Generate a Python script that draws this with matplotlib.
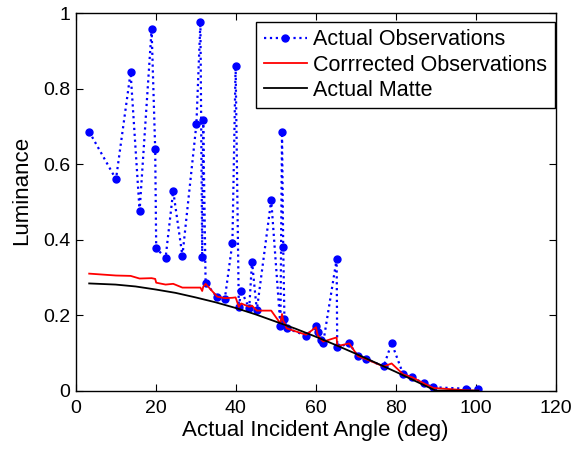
import matplotlib
matplotlib.use('Agg')
import matplotlib.pyplot as plt

plt.rcParams['font.family'] = ['Liberation Sans', 'DejaVu Sans']

# Actual observations (angle in deg, luminance)
obs_angle = [3.4, 10.1, 13.75, 16.0, 19.0, 19.9, 20.15, 22.5, 24.4, 26.7,
             30.2, 31.2, 31.65, 31.9, 32.5, 35.4, 37.3, 39.2, 40.0, 40.8,
             41.4, 43.4, 44.1, 45.3, 48.9, 51.2, 51.6, 51.9, 52.2, 52.75,
             57.6, 60.1, 60.5, 61.3, 61.9, 65.25, 65.4, 68.4, 70.6, 72.7,
             77.0, 79.0, 81.9, 84.2, 87.1, 89.4, 97.7, 100.7]
obs_lum = [0.686, 0.560, 0.843, 0.476, 0.957, 0.639, 0.377, 0.352, 0.529, 0.357,
           0.706, 0.977, 0.353, 0.716, 0.286, 0.247, 0.243, 0.392, 0.861, 0.221,
           0.265, 0.218, 0.342, 0.213, 0.505, 0.171, 0.684, 0.380, 0.190, 0.165,
           0.146, 0.170, 0.155, 0.134, 0.127, 0.348, 0.115, 0.125, 0.091, 0.084,
           0.064, 0.126, 0.043, 0.035, 0.019, 0.009, 0.005, 0.005]

# Corrected observations, same angles
corr_lum = [0.310, 0.305, 0.304, 0.297, 0.298, 0.296, 0.286, 0.281, 0.283, 0.273,
            0.273, 0.273, 0.264, 0.275, 0.283, 0.249, 0.245, 0.246, 0.247, 0.222,
            0.231, 0.222, 0.225, 0.212, 0.212, 0.178, 0.203, 0.185, 0.180, 0.165,
            0.148, 0.168, 0.148, 0.136, 0.130, 0.141, 0.118, 0.125, 0.091, 0.083,
            0.064, 0.072, 0.043, 0.035, 0.019, 0.007, 0.001, 0.0]

# Actual matte curve
matte_angle = [3.4, 10, 15, 20, 25, 30, 35, 40, 45, 50, 55, 60, 65, 70, 75,
               80, 85, 90, 100.7]
matte_lum = [0.284, 0.281, 0.276, 0.268, 0.259, 0.247, 0.234, 0.219, 0.202,
             0.183, 0.164, 0.143, 0.121, 0.098, 0.074, 0.050, 0.025, 0.0, 0.0]

fig = plt.figure(figsize=(5.77, 4.49), dpi=100)
ax = fig.add_axes([0.131, 0.13, 0.832, 0.8406])

ax.plot(obs_angle, obs_lum, ':', color='b', lw=1.6, marker='o', ms=5,
        label='Actual Observations')
ax.plot(obs_angle, corr_lum, '-', color='r', lw=1.3, label='Corrrected Observations')
ax.plot(matte_angle, matte_lum, '-', color='k', lw=1.3, label='Actual Matte')

ax.set_xlim(0, 120)
ax.set_ylim(0, 1)
ax.set_xticks([0, 20, 40, 60, 80, 100, 120])
ax.set_yticks([0, 0.2, 0.4, 0.6, 0.8, 1])
ax.set_yticklabels(['0', '0.2', '0.4', '0.6', '0.8', '1'])
ax.tick_params(direction='in', top=True, right=True, length=5, width=0.8,
               labelsize=14)
ax.tick_params(axis='x', pad=7)
ax.tick_params(axis='y', pad=4)
for s in ax.spines.values():
    s.set_linewidth(1.0)

ax.set_xlabel('Actual Incident Angle (deg)', fontsize=16, labelpad=2)
ax.set_ylabel('Luminance', fontsize=16)
ax.yaxis.set_label_coords(-0.09, 0.53)

leg = ax.legend(loc='upper right', bbox_to_anchor=(0.9985, 0.9775),
                fontsize=15.5, fancybox=False, framealpha=1,
                edgecolor='k', handlelength=2.0, handletextpad=0.3,
                borderpad=0.35, labelspacing=0.2, borderaxespad=0)
leg.get_frame().set_linewidth(1.0)

fig.savefig('out.png', dpi=100)
